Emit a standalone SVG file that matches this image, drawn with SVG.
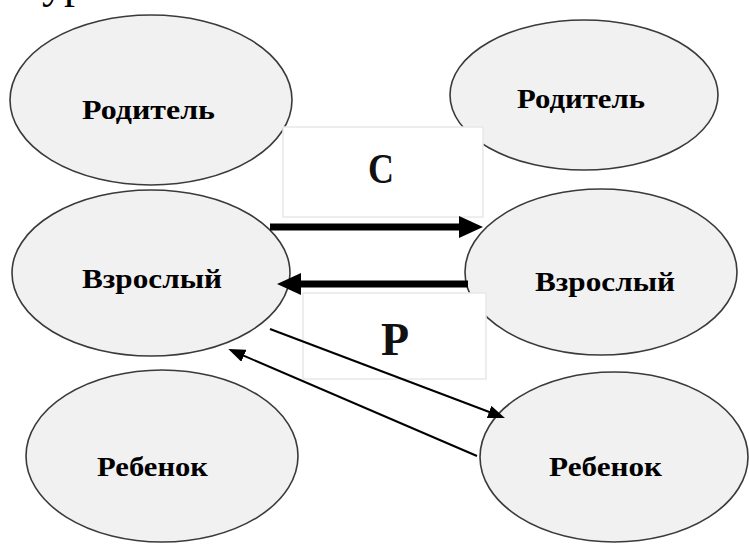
<svg xmlns="http://www.w3.org/2000/svg" width="749" height="545" viewBox="0 0 749 545">
<style>
.node ellipse{fill:#f1f1f1;stroke:#3a3a3a;stroke-width:1.6}
.lbl{font-family:"Liberation Serif","Times New Roman",serif;font-weight:bold;font-size:28px;fill:#000}
.big{font-family:"Liberation Serif","Times New Roman",serif;font-weight:bold;fill:#111}
.box{fill:#fff;stroke:#e8e8e8;stroke-width:1.5}
.thick{stroke:#000;stroke-width:7;fill:none}
.thin{stroke:#000;stroke-width:2;fill:none}
</style>
<defs>
<marker id="headThick" markerUnits="userSpaceOnUse" viewBox="0 0 24 22" refX="1" refY="11" markerWidth="24" markerHeight="22" orient="auto">
<path d="M0,0 L24,11 L0,22 Z" fill="#000"/>
</marker>
<marker id="headThin" markerUnits="userSpaceOnUse" viewBox="0 0 17 13" refX="1" refY="6.5" markerWidth="17" markerHeight="13" orient="auto">
<path d="M0,0 L17,6.5 L0,13 Z" fill="#000"/>
</marker>
</defs>
<rect width="749" height="545" fill="#fff"/>
<text x="42" y="-2" font-family="Liberation Serif, Times New Roman, serif" font-size="44" fill="#000">ур</text>
<g id="parent-left" class="node"><ellipse cx="151" cy="100" rx="141" ry="85"/><text class="lbl" x="82" y="119" textLength="133" lengthAdjust="spacingAndGlyphs">Родитель</text></g>
<g id="parent-right" class="node"><ellipse cx="584" cy="95" rx="134" ry="75"/><text class="lbl" x="517" y="108" textLength="128" lengthAdjust="spacingAndGlyphs">Родитель</text></g>
<g id="adult-left" class="node"><ellipse cx="151" cy="273" rx="139" ry="83"/><text class="lbl" x="82" y="288" textLength="140" lengthAdjust="spacingAndGlyphs">Взрослый</text></g>
<g id="adult-right" class="node"><ellipse cx="601" cy="272" rx="136" ry="83"/><text class="lbl" x="535" y="291" textLength="140" lengthAdjust="spacingAndGlyphs">Взрослый</text></g>
<g id="child-left" class="node"><ellipse cx="162" cy="456" rx="136" ry="86"/><text class="lbl" x="97" y="476" textLength="111" lengthAdjust="spacingAndGlyphs">Ребенок</text></g>
<g id="child-right" class="node"><ellipse cx="614" cy="457" rx="134" ry="85"/><text class="lbl" x="549" y="476" textLength="113" lengthAdjust="spacingAndGlyphs">Ребенок</text></g>
<g id="label-c"><rect class="box" x="283" y="127" width="200" height="90"/><text class="big" x="368" y="183" font-size="42" textLength="26" lengthAdjust="spacingAndGlyphs">С</text></g>
<g id="label-p"><rect class="box" x="303" y="293" width="183" height="86"/><text class="big" x="381" y="355" font-size="46">Р</text></g>
<g id="connectors">
<line class="thick" x1="270" y1="227" x2="460" y2="227" marker-end="url(#headThick)"/>
<line class="thick" x1="468" y1="284" x2="300" y2="284" marker-end="url(#headThick)"/>
<line class="thin" x1="270" y1="329" x2="490" y2="412.3" marker-end="url(#headThin)"/>
<line class="thin" x1="477" y1="456" x2="243" y2="355.4" marker-end="url(#headThin)"/>
</g>
</svg>
